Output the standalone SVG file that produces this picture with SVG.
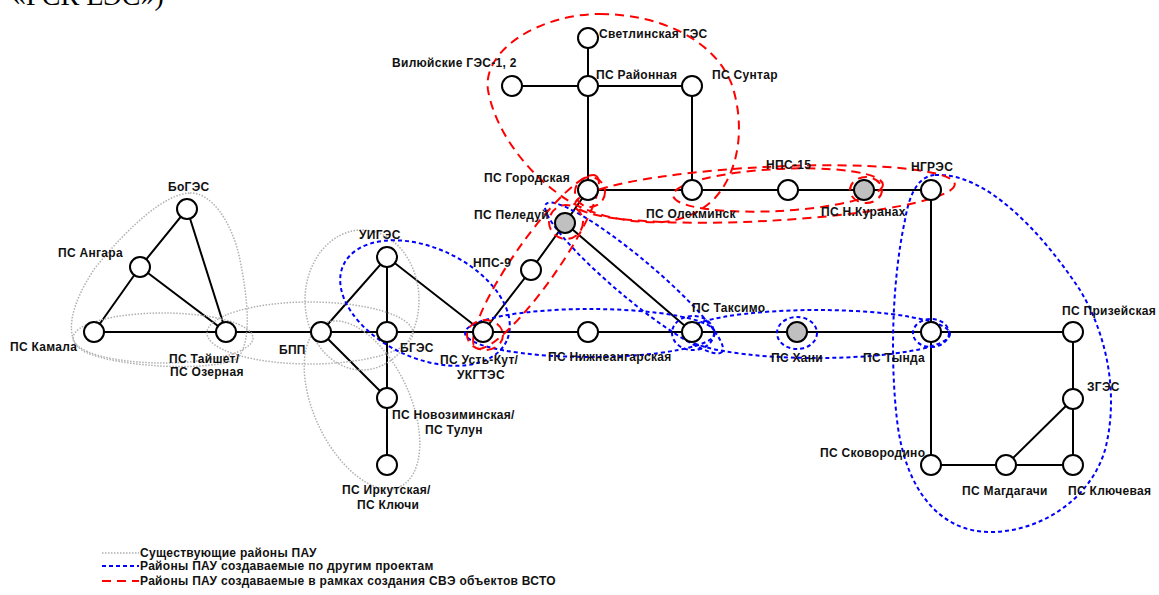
<svg xmlns="http://www.w3.org/2000/svg" width="1159" height="595" viewBox="0 0 1159 595">
<style>
.n{fill:#fff;stroke:#000;stroke-width:2}
.g{fill:#c0c0c0;stroke:#000;stroke-width:2}
.e{stroke:#000;stroke-width:2;fill:none}
.t{font-family:"Liberation Sans",Arial,sans-serif;font-size:12px;font-weight:bold;fill:#111;letter-spacing:0.3px}
.gr{fill:none;stroke:#b0b0b0;stroke-width:1.5;stroke-dasharray:1.5 1.5}
.bl{fill:none;stroke:#0000ff;stroke-width:2;stroke-dasharray:4 3}
.rd{fill:none;stroke:#ff0000;stroke-width:2;stroke-dasharray:9 6}
</style>
<rect width="1159" height="595" fill="#fff"/>
<text x="12" y="4.5" font-family="Liberation Serif,serif" font-size="28">«ГСК ЕЭС»)</text>

<g id="connectors">
<path class="e" d="M588 38V190M512 86H692V190M588 190H931V332M588 190L565 223L531 270L483 332M565 223L692 332"/>
<path class="e" d="M94 332L140 267L187 209L226 332L140 267M94 332H1073V465H931V332M1006 465L1073 399"/>
<path class="e" d="M321 332L387 257L483 332M387 257V465M321 332L387 398"/>
</g>

<g id="areas-existing">
<path class="gr" d="M190 193C210 192 232 220 240 260C248 300 252 340 238 358C215 372 120 368 85 352C62 340 70 305 95 268C130 225 165 194 190 193Z"/>
<ellipse class="gr" cx="163" cy="338" rx="90" ry="25"/>
<ellipse class="gr" cx="310" cy="333" rx="103" ry="31"/>
<ellipse class="gr" cx="362" cy="300" rx="57" ry="70"/>
<ellipse class="gr" cx="362" cy="405" rx="90" ry="48" transform="rotate(65 362 405)"/>
</g>

<g id="areas-other">
<ellipse class="bl" cx="425" cy="303" rx="90" ry="55" transform="rotate(25 425 303)"/>
<ellipse class="bl" cx="590" cy="333" rx="125" ry="24"/>
<ellipse class="bl" cx="634" cy="278" rx="115" ry="20" transform="rotate(40 634 278)"/>
<ellipse class="bl" cx="693" cy="333" rx="21" ry="17"/>
<ellipse class="bl" cx="797" cy="333" rx="20" ry="16"/>
<ellipse class="bl" cx="817" cy="334" rx="133" ry="24"/>
<ellipse class="bl" cx="931" cy="333" rx="18" ry="14"/>
<path class="bl" d="M935 175C985 172 1040 230 1080 290C1110 340 1118 400 1105 450C1090 500 1040 532 990 532C940 532 905 490 897 420C890 360 892 280 905 220C910 190 920 176 935 175Z"/>
</g>

<g id="areas-vsto">
<path class="rd" d="M600 14C660 14 715 40 732 85C745 125 740 170 715 198C695 218 670 224 645 222C610 220 580 210 560 195C525 170 495 130 488 90C482 50 540 14 600 14Z"/>
<ellipse class="rd" cx="765" cy="194" rx="190" ry="27" transform="rotate(-3 765 194)"/>
<ellipse class="rd" cx="778" cy="190" rx="105" ry="21" transform="rotate(-3 778 190)"/>
<circle class="rd" cx="590" cy="192" r="15"/>
<circle class="rd" cx="566" cy="222" r="17"/>
<ellipse class="rd" cx="536" cy="262" rx="105" ry="22" transform="rotate(-55 536 262)"/>
<ellipse class="rd" cx="485" cy="335" rx="18" ry="15"/>
<ellipse class="rd" cx="866" cy="190" rx="16" ry="13"/>
</g>

<g id="n-svetlinskaya"><circle class="n" cx="588" cy="38" r="10"/><text class="t" x="599" y="38">Светлинская ГЭС</text></g>
<g id="n-vilyuy"><circle class="n" cx="512" cy="86" r="10"/><text class="t" x="392" y="67">Вилюйские ГЭС-1, 2</text></g>
<g id="n-rayonnaya"><circle class="n" cx="588" cy="86" r="10"/><text class="t" x="596" y="79">ПС Районная</text></g>
<g id="n-suntar"><circle class="n" cx="692" cy="86" r="10"/><text class="t" x="712" y="79">ПС Сунтар</text></g>
<g id="n-gorodskaya"><circle class="n" cx="588" cy="190" r="10"/><text class="t" x="484" y="182">ПС Городская</text></g>
<g id="n-olekminsk"><circle class="n" cx="692" cy="190" r="10"/><text class="t" x="646" y="218">ПС Олекминск</text></g>
<g id="n-nps15"><circle class="n" cx="788" cy="190" r="10"/><text class="t" x="766" y="169">НПС-15</text></g>
<g id="n-kuranakh"><circle class="g" cx="864" cy="190" r="10"/><text class="t" x="821" y="216">ПС Н.Куранах</text></g>
<g id="n-ngres"><circle class="n" cx="931" cy="190" r="10"/><text class="t" x="911" y="171">НГРЭС</text></g>
<g id="n-peleduy"><circle class="g" cx="565" cy="223" r="10"/><text class="t" x="474" y="219">ПС Пеледуй</text></g>
<g id="n-nps9"><circle class="n" cx="531" cy="270" r="10"/><text class="t" x="473" y="267">НПС-9</text></g>
<g id="n-boges"><circle class="n" cx="187" cy="209" r="10"/><text class="t" x="168" y="191">БоГЭС</text></g>
<g id="n-angara"><circle class="n" cx="140" cy="267" r="10"/><text class="t" x="58" y="257">ПС Ангара</text></g>
<g id="n-kamala"><circle class="n" cx="94" cy="332" r="10"/><text class="t" x="10" y="351">ПС Камала</text></g>
<g id="n-tayshet"><circle class="n" cx="226" cy="332" r="10"/><text class="t" x="169" y="363">ПС Тайшет/</text><text class="t" x="170" y="376">ПС Озерная</text></g>
<g id="n-bpp"><circle class="n" cx="321" cy="332" r="10"/><text class="t" x="279" y="354">БПП</text></g>
<g id="n-uiges"><circle class="n" cx="387" cy="257" r="10"/><text class="t" x="359" y="239">УИГЭС</text></g>
<g id="n-bges"><circle class="n" cx="387" cy="332" r="10"/><text class="t" x="400" y="352">БГЭС</text></g>
<g id="n-novoziminskaya"><circle class="n" cx="387" cy="398" r="10"/><text class="t" x="392" y="419">ПС Новозиминская/</text><text class="t" x="425" y="434">ПС Тулун</text></g>
<g id="n-irkutskaya"><circle class="n" cx="387" cy="465" r="10"/><text class="t" x="342" y="494">ПС Иркутская/</text><text class="t" x="357" y="509">ПС Ключи</text></g>
<g id="n-ustkut"><circle class="n" cx="483" cy="332" r="10"/><text class="t" x="440" y="364">ПС Усть-Кут/</text><text class="t" x="457" y="379">УКГТЭС</text></g>
<g id="n-nizhneangarskaya"><circle class="n" cx="588" cy="332" r="10"/><text class="t" x="548" y="361">ПС Нижнеангарская</text></g>
<g id="n-taksimo"><circle class="n" cx="692" cy="332" r="10"/><text class="t" x="692" y="312">ПС Таксимо</text></g>
<g id="n-khani"><circle class="g" cx="797" cy="332" r="10"/><text class="t" x="771" y="362">ПС Хани</text></g>
<g id="n-tynda"><circle class="n" cx="931" cy="332" r="10"/><text class="t" x="863" y="362">ПС Тында</text></g>
<g id="n-prizeyskaya"><circle class="n" cx="1073" cy="332" r="10"/><text class="t" x="1062" y="315">ПС Призейская</text></g>
<g id="n-zges"><circle class="n" cx="1073" cy="399" r="10"/><text class="t" x="1087" y="391">ЗГЭС</text></g>
<g id="n-skovorodino"><circle class="n" cx="931" cy="465" r="10"/><text class="t" x="820" y="457">ПС Сковородино</text></g>
<g id="n-magdagachi"><circle class="n" cx="1006" cy="465" r="10"/><text class="t" x="962" y="495">ПС Магдагачи</text></g>
<g id="n-klyuchevaya"><circle class="n" cx="1073" cy="465" r="10"/><text class="t" x="1068" y="495">ПС Ключевая</text></g>

<g id="legend">
<line class="gr" x1="102" y1="553" x2="139" y2="553"/>
<line class="bl" x1="102" y1="566" x2="139" y2="566"/>
<line class="rd" x1="102" y1="581" x2="139" y2="581"/>
<text class="t" x="140" y="557">Существующие районы ПАУ</text>
<text class="t" x="140" y="570">Районы ПАУ создаваемые по другим проектам</text>
<text class="t" x="140" y="585">Районы ПАУ создаваемые в рамках создания СВЭ объектов ВСТО</text>
</g>
</svg>
